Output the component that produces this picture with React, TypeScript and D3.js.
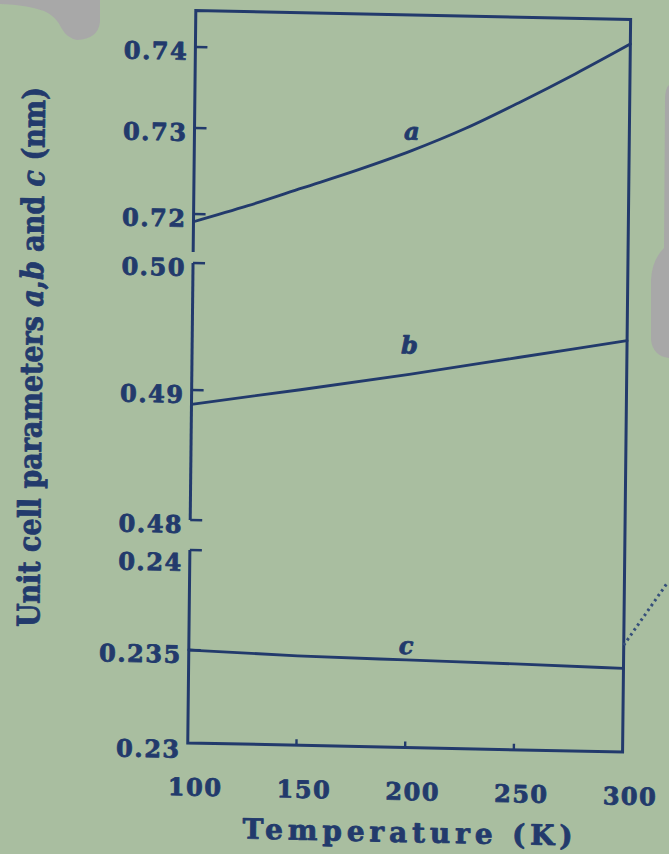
import React from 'react';
import * as d3 from 'd3';

// ---- data ----
const aTemps = [100, 125, 150, 175, 200, 225, 250, 275, 300];
const aValues = [0.7191, 0.7211, 0.7233, 0.7255, 0.7279, 0.7307, 0.7341, 0.7377, 0.7415];
const bTemps = [100, 150, 200, 250, 300];
const bValues = [0.4889, 0.4902, 0.4916, 0.4931, 0.4946];
const cTemps = [100, 150, 200, 250, 300];
const cValues = [0.235, 0.23481, 0.23471, 0.23462, 0.2345];
const extTemps = [300, 320];
const extValues = [0.2357, 0.2389];

const xTicks = [100, 150, 200, 250, 300];
const xTickLabels = ['100', '150', '200', '250', '300'];
const aTicks = [0.72, 0.73, 0.74];
const aTickLabels = ['0.72', '0.73', '0.74'];
const bTicks = [0.48, 0.49, 0.5];
const bTickLabels = ['0.48', '0.49', '0.50'];
const cTicks = [0.23, 0.235, 0.24];
const cTickLabels = ['0.23', '0.235', '0.24'];

const curveLabels = ['a', 'b', 'c'];
const labelTemps = [200, 200, 200];
const labelValues = [0.73, 0.4938, 0.2354];

const xTitle = 'Temperature (K)';

// ---- layout ----
const W = 669;
const H = 854;
const X0 = 191.8;
const X1 = 626.6;
const TOP = 15;
const BOTTOM = 747.5;
const INK = '#223a6c';
const BG = '#a9be a0'.replace(' ', '');
const FONT = '"DejaVu Serif", serif';

const x = d3.scaleLinear().domain([100, 300]).range([X0, X1]);
const yA = d3.scaleLinear().domain(aTicks).range([218.6, 132.6, 51.6]);
const yB = d3.scaleLinear().domain(bTicks).range([524.6, 394.6, 267.6]);
const yC = d3.scaleLinear().domain(cTicks).range([BOTTOM, 654.6, 554.6]);

const panels = [
  { y: yA, ticks: aTicks, labels: aTickLabels, temps: aTemps, values: aValues, axisFrom: TOP, axisTo: 256.6 },
  { y: yB, ticks: bTicks, labels: bTickLabels, temps: bTemps, values: bValues, axisFrom: 267.6, axisTo: 524.6 },
  { y: yC, ticks: cTicks, labels: cTickLabels, temps: cTemps, values: cValues, axisFrom: 554.6, axisTo: BOTTOM },
];

function makeLine(scaleY: d3.ScaleLinear<number, number>, ts: number[], vs: number[]) {
  const gen = d3
    .line<number>()
    .x((_, i) => x(ts[i]))
    .y((v) => scaleY(v))
    .curve(d3.curveMonotoneX);
  return gen(vs) || '';
}

const bold = { stroke: INK, strokeWidth: 0.8, strokeLinejoin: 'round' as const };

export default function App() {
  const b0 = 0.021;
  const c0 = -0.011;
  const cx = 410;
  const cy = 380;
  const matrix = `matrix(1,${b0},${c0},1,${-c0 * cy},${-b0 * cx})`;

  const framePath = `M${X0},${panels[0].axisTo} L${X0},${TOP} L${X1},${TOP} L${X1},${BOTTOM} L${X0},${BOTTOM} L${X0},${panels[2].axisFrom}`;

  return (
    <svg width={W} height={H} style={{ position: 'absolute', left: 0, top: 0 }} xmlns="http://www.w3.org/2000/svg">
      <rect x={0} y={0} width={W} height={H} fill={BG} />
      <path d="M0,0 L100,0 L100,22 Q98,39 77,40 Q67,38 62,29 Q56,16 44,11 Q28,5 0,4 Z" fill="#a8a8a8" />
      <path d="M669,85 Q665,88 665,100 L664,248 Q652,260 651,280 L651,340 Q653,356 669,358 Z" fill="#a8a8a8" />
      <g transform={matrix}>
        <path d={framePath} fill="none" stroke={INK} strokeWidth={3} strokeLinejoin="miter" />
        <line x1={X0} x2={X0} y1={panels[1].axisFrom} y2={panels[1].axisTo} stroke={INK} strokeWidth={3} />

        {panels.map((p, pi) =>
          p.ticks.map((t, ti) => {
            const yy = p.y(t);
            const isBottomAxis = pi === 2 && ti === 0;
            let dy = 13;
            if (pi === 2 && ti === 2) dy = 21;
            if (isBottomAxis) dy = 15;
            return (
              <g key={`t${pi}-${ti}`}>
                {!isBottomAxis && (
                  <line x1={X0} x2={X0 + 12} y1={yy} y2={yy} stroke={INK} strokeWidth={2.6} />
                )}
                <text
                  x={X0 - 7}
                  y={yy + dy}
                  textAnchor="end"
                  fontFamily={FONT}
                  fontWeight="bold"
                  fontSize={24}
                  letterSpacing={1.5}
                  fill={INK}
                  {...bold}
                >
                  {p.labels[ti]}
                </text>
              </g>
            );
          })
        )}

        {panels.map((p, pi) => (
          <path
            key={`c${pi}`}
            d={makeLine(p.y, p.temps, p.values)}
            fill="none"
            stroke={INK}
            strokeWidth={2.8}
            strokeLinecap="round"
          />
        ))}

        <path
          d={makeLine(yC, extTemps, extValues)}
          fill="none"
          stroke="#36507a"
          strokeWidth={3}
          strokeDasharray="2.5 3.5"
        />

        {curveLabels.map((l, i) => (
          <text
            key={`l${i}`}
            x={x(labelTemps[i])}
            y={panels[i].y(labelValues[i])}
            dy="0.3em"
            textAnchor="middle"
            fontFamily={FONT}
            fontWeight="bold"
            fontStyle="italic"
            fontSize={24}
            fill={INK}
            {...bold}
          >
            {l}
          </text>
        ))}

        {xTicks.map((t, i) => (
          <g key={`x${i}`}>
            {i > 0 && i < xTicks.length - 1 && (
              <line x1={x(t)} x2={x(t)} y1={BOTTOM} y2={BOTTOM - 6} stroke={INK} strokeWidth={2.4} />
            )}
            <text
              x={x(t) + 8}
              y={800}
              textAnchor="middle"
              fontFamily={FONT}
              fontWeight="bold"
              fontSize={24}
              letterSpacing={1.5}
              fill={INK}
              {...bold}
            >
              {xTickLabels[i]}
            </text>
          </g>
        ))}

        <text
          x={412.6}
          y={842}
          textAnchor="middle"
          fontFamily={FONT}
          fontWeight="bold"
          fontSize={28}
          textLength={330}
          lengthAdjust="spacing"
          fill={INK}
          {...bold}
        >
          {xTitle}
        </text>

        <text
          transform="translate(42,365) rotate(-90)"
          textAnchor="middle"
          fontFamily={FONT}
          fontWeight="bold"
          fontSize={31}
          textLength={540}
          lengthAdjust="spacingAndGlyphs"
          fill={INK}
          {...bold}
        >
          {'Unit cell parameters '}
          <tspan fontStyle="italic">a</tspan>
          {','}
          <tspan fontStyle="italic">b</tspan>
          {' and '}
          <tspan fontStyle="italic">c</tspan>
          {' (nm)'}
        </text>
      </g>
    </svg>
  );
}
